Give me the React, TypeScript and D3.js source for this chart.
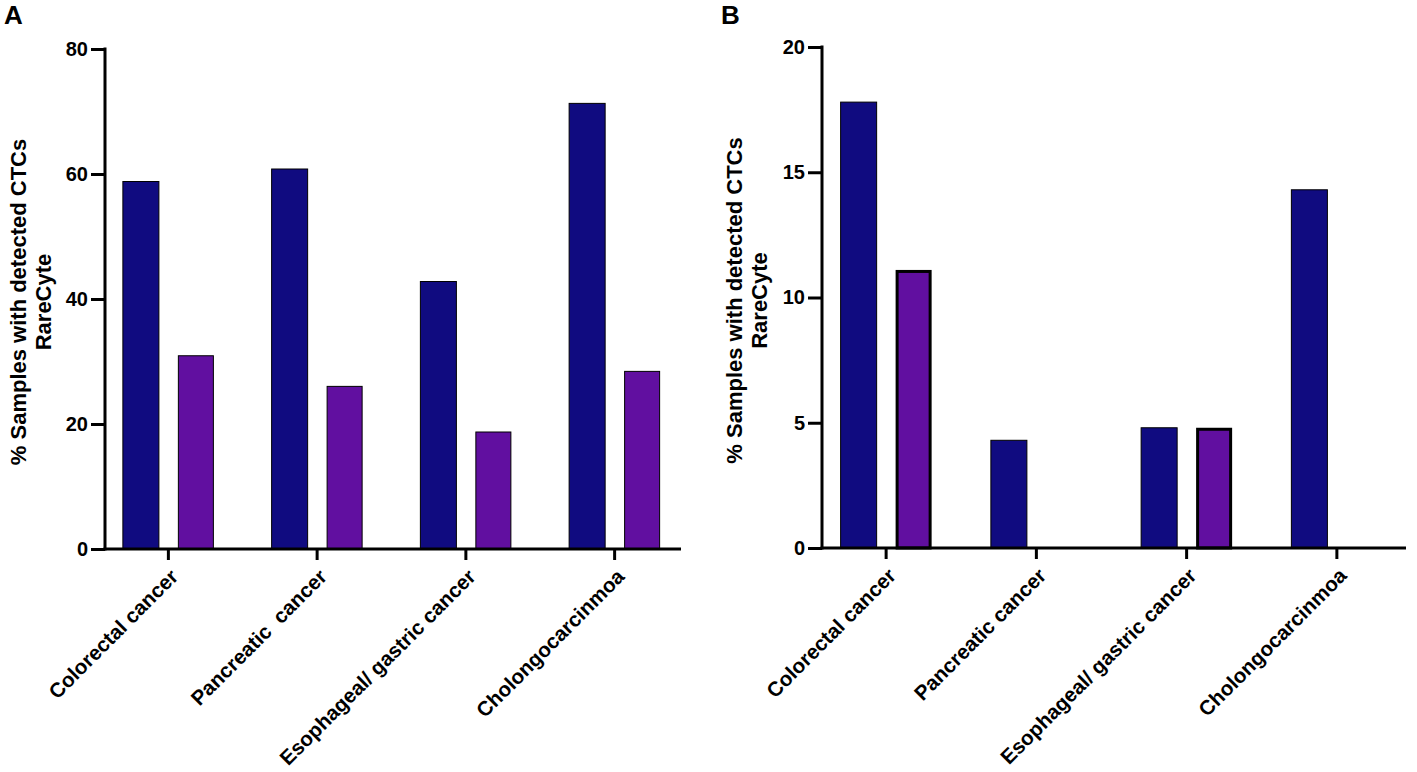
import * as d3 from "d3";
import { useEffect, useRef } from "react";

const categoriesA = [
  "Colorectal cancer",
  "Pancreatic  cancer",
  "Esophageal/ gastric cancer",
  "Cholongocarcinmoa",
];
const categoriesB = [
  "Colorectal cancer",
  "Pancreatic cancer",
  "Esophageal/ gastric cancer",
  "Cholongocarcinmoa",
];
const series = ["blue", "purple"];
const valuesA_blue = [58.8, 60.8, 42.8, 71.3];
const valuesA_purple = [31.0, 26.1, 18.8, 28.5];
const valuesB_blue = [17.8, 4.3, 4.8, 14.3];
const valuesB_purple = [11.1, 0, 4.8, 0];
const ticksA = [0, 20, 40, 60, 80];
const ticksB = [0, 5, 10, 15, 20];
const yLabel = ["% Samples with detected CTCs", "RareCyte"];

const BLUE = "#100b80";
const PURPLE = "#610fa0";
const FONT = "'Liberation Sans', Arial, sans-serif";

interface PanelCfg {
  letter: string;
  letterX: number;
  categories: string[];
  blue: number[];
  purple: number[];
  ticks: number[];
  yMax: number;
  axisX: number;
  axisEnd: number;
  bandRange: [number, number];
  y0: number;
  y1: number;
  labelX: number;
  purpleStroke: number;
}

const panels: PanelCfg[] = [
  {
    letter: "A",
    letterX: 4,
    categories: categoriesA,
    blue: valuesA_blue,
    purple: valuesA_purple,
    ticks: ticksA,
    yMax: 80,
    axisX: 105,
    axisEnd: 681,
    bandRange: [94, 689],
    y0: 549,
    y1: 49,
    labelX: 26,
    purpleStroke: 1,
  },
  {
    letter: "B",
    letterX: 721,
    categories: categoriesB,
    blue: valuesB_blue,
    purple: valuesB_purple,
    ticks: ticksB,
    yMax: 20,
    axisX: 822,
    axisEnd: 1406,
    bandRange: [811, 1412],
    y0: 548,
    y1: 47,
    labelX: 742,
    purpleStroke: 3,
  },
];

export default function App() {
  const svgRef = useRef<SVGSVGElement>(null);

  useEffect(() => {
    if (!svgRef.current) return;
    const svg = d3.select(svgRef.current);
    svg.selectAll("*").remove();

    panels.forEach((p) => {
      const g = svg.append("g").style("font-family", FONT);

      const x = d3.scaleBand<string>().domain(p.categories).range(p.bandRange).padding(0);
      const xInner = d3
        .scaleBand<string>()
        .domain(series)
        .range([-45.5, 45.5])
        .paddingInner(0.345)
        .paddingOuter(0);
      const y = d3.scaleLinear().domain([0, p.yMax]).range([p.y0, p.y1]);

      // panel letter
      g.append("text")
        .attr("x", p.letterX)
        .attr("y", 24)
        .style("font-size", "26px")
        .style("font-weight", "bold")
        .text(p.letter);

      // bars
      const rows = p.categories.map((c, i) => ({ c, blue: p.blue[i], purple: p.purple[i] }));
      rows.forEach((r) => {
        const cx = (x(r.c) ?? 0) + x.bandwidth() / 2;
        g.append("rect")
          .attr("x", cx + (xInner("blue") ?? 0))
          .attr("y", y(r.blue))
          .attr("width", xInner.bandwidth())
          .attr("height", y(0) - y(r.blue))
          .attr("fill", BLUE)
          .attr("stroke", "#000")
          .attr("stroke-width", 1);
        if (r.purple > 0) {
          const sw = p.purpleStroke;
          g.append("rect")
            .attr("x", cx + (xInner("purple") ?? 0) + sw / 2)
            .attr("y", y(r.purple) + sw / 2)
            .attr("width", xInner.bandwidth() - sw)
            .attr("height", y(0) - y(r.purple) - sw / 2)
            .attr("fill", PURPLE)
            .attr("stroke", "#000")
            .attr("stroke-width", sw);
        }
      });

      // y axis
      const yAxis = g
        .append("g")
        .attr("transform", `translate(${p.axisX},0)`)
        .call(d3.axisLeft(y).tickValues(p.ticks).tickSize(14).tickPadding(3).tickSizeOuter(0));
      yAxis.select(".domain").attr("stroke-width", 3).attr("d", `M0,${p.y1 - 1.5}V${p.y0 + 1.5}`);
      yAxis.selectAll(".tick line").attr("stroke-width", 3);
      yAxis
        .selectAll(".tick text")
        .style("font-family", FONT)
        .style("font-size", "20px")
        .style("font-weight", "bold")
        .attr("fill", "#000");

      // x axis
      const xAxis = g
        .append("g")
        .attr("transform", `translate(0,${p.y0})`)
        .call(d3.axisBottom(x).tickSize(11).tickSizeOuter(0).tickFormat(() => ""));
      xAxis.select(".domain").attr("stroke-width", 3).attr("d", `M${p.axisX - 1.5},0H${p.axisEnd}`);
      xAxis.selectAll(".tick line").attr("stroke-width", 3);

      // category labels
      p.categories.forEach((c) => {
        const cx = (x(c) ?? 0) + x.bandwidth() / 2;
        g.append("text")
          .attr("transform", `translate(${cx + 11},${p.y0 + 29}) rotate(-45)`)
          .attr("text-anchor", "end")
          .style("font-size", "20.6px")
          .style("font-weight", "bold")
          .style("white-space", "pre")
          .text(c);
      });

      // y label
      const midY = (p.y0 + p.y1) / 2;
      yLabel.forEach((t, i) => {
        g.append("text")
          .attr("transform", `translate(${p.labelX + i * 25},${midY + 3}) rotate(-90)`)
          .attr("text-anchor", "middle")
          .style("font-size", "22px")
          .style("font-weight", "bold")
          .text(t);
      });
    });
  }, []);

  return (
    <svg
      ref={svgRef}
      width={1417}
      height={772}
      style={{ position: "absolute", left: 0, top: 0, background: "#fff" }}
    />
  );
}
